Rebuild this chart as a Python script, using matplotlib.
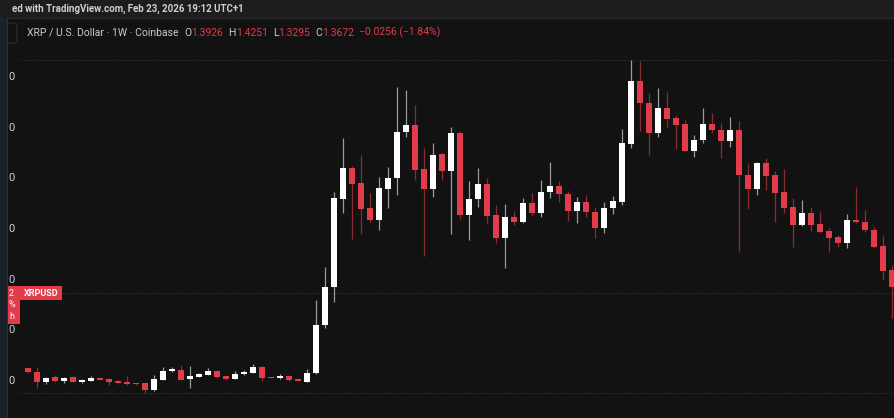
import matplotlib
matplotlib.use("Agg")
import matplotlib.pyplot as plt
from matplotlib.patches import Rectangle, FancyBboxPatch

# weekly XRP/USD candles
opens = [0.631, 0.592, 0.493, 0.536, 0.500, 0.536, 0.490, 0.503, 0.529, 0.520,
         0.503, 0.493, 0.477, 0.477, 0.411, 0.510, 0.601, 0.608, 0.517, 0.542,
         0.559, 0.599, 0.549, 0.520, 0.566, 0.582, 0.641, 0.536, 0.526, 0.549,
         0.516, 0.493, 0.576, 1.053, 1.431, 2.296, 2.605, 2.451, 2.204, 2.089,
         2.395, 2.500, 2.954, 3.026, 2.589, 2.392, 2.737, 2.575, 2.950, 2.138,
         2.293, 2.441, 2.138, 1.914, 2.121, 2.072, 2.253, 2.155, 2.368, 2.427,
         2.345, 2.178, 2.269, 2.171, 2.013, 2.204, 2.269, 2.836, 3.461, 3.246,
         2.950, 3.191, 3.092, 3.033, 2.773, 2.878, 3.033, 2.977, 2.868, 2.977,
         2.530, 2.392, 2.648, 2.530, 2.368, 2.214, 2.039, 2.161, 2.049, 1.980,
         1.918, 1.859, 2.089, 2.069, 1.990, 1.832, 1.595]
closes = [0.586, 0.493, 0.526, 0.503, 0.532, 0.493, 0.510, 0.532, 0.510, 0.487,
          0.477, 0.470, 0.470, 0.411, 0.520, 0.599, 0.618, 0.510, 0.552, 0.566,
          0.599, 0.536, 0.517, 0.566, 0.586, 0.641, 0.526, 0.529, 0.549, 0.510,
          0.503, 0.582, 1.053, 1.431, 2.303, 2.605, 2.447, 2.197, 2.086, 2.402,
          2.506, 2.960, 3.026, 2.582, 2.392, 2.730, 2.572, 2.944, 2.138, 2.293,
          2.441, 2.128, 1.914, 2.121, 2.072, 2.253, 2.155, 2.368, 2.427, 2.342,
          2.178, 2.269, 2.165, 2.013, 2.210, 2.279, 2.846, 3.461, 3.246, 2.950,
          3.191, 3.086, 3.026, 2.773, 2.878, 3.033, 2.977, 2.868, 2.977, 2.530,
          2.392, 2.648, 2.523, 2.358, 2.210, 2.039, 2.161, 2.039, 1.973, 1.914,
          1.859, 2.089, 2.066, 1.990, 1.825, 1.588, 1.425]
highs = [0.641, 0.641, 0.536, 0.559, 0.540, 0.545, 0.515, 0.552, 0.535, 0.528,
         0.510, 0.552, 0.482, 0.485, 0.559, 0.635, 0.635, 0.658, 0.648, 0.575,
         0.631, 0.605, 0.555, 0.599, 0.608, 0.665, 0.648, 0.540, 0.570, 0.555,
         0.520, 0.618, 1.299, 1.628, 2.368, 2.901, 2.620, 2.730, 2.352, 2.510,
         2.609, 3.404, 3.372, 3.224, 2.802, 2.846, 2.750, 3.010, 2.967, 2.477,
         2.599, 2.506, 2.237, 2.247, 2.181, 2.303, 2.358, 2.484, 2.664, 2.477,
         2.378, 2.319, 2.335, 2.220, 2.269, 2.329, 2.987, 3.668, 3.661, 3.339,
         3.389, 3.355, 3.125, 3.076, 2.928, 3.191, 3.142, 3.043, 3.108, 3.066,
         2.648, 2.660, 2.698, 2.570, 2.589, 2.303, 2.286, 2.214, 2.181, 2.007,
         1.941, 2.145, 2.417, 2.187, 2.023, 1.941, 1.645]
lows = [0.576, 0.434, 0.470, 0.490, 0.480, 0.487, 0.485, 0.498, 0.505, 0.460,
        0.470, 0.465, 0.465, 0.384, 0.405, 0.505, 0.590, 0.505, 0.428, 0.535,
        0.555, 0.530, 0.505, 0.515, 0.560, 0.578, 0.503, 0.525, 0.520, 0.500,
        0.498, 0.490, 0.570, 1.023, 1.282, 2.155, 1.898, 1.951, 2.069, 1.990,
        2.204, 2.335, 2.911, 2.484, 1.733, 2.319, 2.484, 1.951, 2.096, 1.891,
        2.220, 2.056, 1.865, 1.612, 2.039, 2.056, 2.128, 2.121, 2.303, 2.269,
        2.082, 2.062, 2.121, 1.908, 1.957, 2.148, 2.237, 2.802, 2.967, 2.730,
        2.905, 3.010, 2.787, 2.763, 2.708, 2.846, 2.950, 2.698, 2.812, 1.776,
        2.194, 2.335, 2.385, 2.072, 2.161, 1.819, 2.029, 1.983, 1.957, 1.776,
        1.825, 1.809, 2.056, 1.973, 1.809, 1.497, 1.119]

tick_prices = [3.5, 3.0, 2.5, 2.0, 1.5, 1.0, 0.5]
last_price = 1.3672

header = "ed with TradingView.com, Feb 23, 2026 19:12 UTC+1"
legend_parts = [("XRP / U.S. Dollar · 1W · Coinbase", "#c9ccd3", 6),
                ("O", "#c9ccd3", 0), ("1.3926", "#e23b4a", 5),
                ("H", "#c9ccd3", 0), ("1.4251", "#e23b4a", 5),
                ("L", "#c9ccd3", 0), ("1.3295", "#e23b4a", 5),
                ("C", "#c9ccd3", 0), ("1.3672", "#e23b4a", 5),
                ("−0.0256 (−1.84%)", "#e23b4a", 0)]

W, H = 895, 418
BG = "#121212"
UP = "#ffffff"
DOWN = "#e23b4a"

fig = plt.figure(figsize=(W / 100, H / 100), dpi=100, facecolor=BG)
ax = fig.add_axes([0, 0, 1, 1])
ax.set_facecolor(BG)
ax.set_xlim(-28 / 9, 867 / 9)
ax.set_ylim(4.2599 - H / 101.33, 4.2599)
ax.axis("off")


def fx(px):
    return px / W


def fy(py):
    return 1 - py / H


xs = list(range(len(opens)))
up = [c >= o for o, c in zip(opens, closes)]
body_cols = [UP if u else DOWN for u in up]
wick_cols = ["#9a9a9a" if u else "#8a2a33" for u in up]
bottoms = [min(o, c) for o, c in zip(opens, closes)]
heights = [max(abs(c - o), 0.012) for o, c in zip(opens, closes)]

# range lines and last price line
ax.axhline(max(highs), xmin=fx(20), xmax=1, color="#3a3a3a", lw=0.8,
           ls=(0, (1, 2)), zorder=1)
ax.axhline(min(lows), xmin=fx(20), xmax=1, color="#3a3a3a", lw=0.8,
           ls=(0, (1, 2)), zorder=1)
ax.axhline(last_price, xmin=fx(62), xmax=1, color="#6e252c", lw=0.8,
           ls=(0, (1, 2)), zorder=1)

ax.vlines(xs, lows, highs, colors=wick_cols, lw=0.9, zorder=2)
ax.bar(xs, heights, bottom=bottoms, width=0.72, color=body_cols,
       linewidth=0, zorder=3)

# top bar
fig.patches.append(Rectangle((0, fy(18)), 1, 18 / H, transform=fig.transFigure,
                             facecolor="#1d1d1d", edgecolor="none", zorder=5))
fig.patches.append(Rectangle((0, fy(18.5)), 1, 1 / H, transform=fig.transFigure,
                             facecolor="#2a2a2a", edgecolor="none", zorder=5))
fig.text(fx(12), fy(9), header, color="#cfcfcf", fontsize=7, fontweight="bold",
         family="Roboto", va="center", ha="left", zorder=6)

# left strip
fig.patches.append(Rectangle((0, 0), 7 / W, fy(18), transform=fig.transFigure,
                             facecolor="#1b212b", edgecolor="none", zorder=5))
fig.patches.append(Rectangle((7 / W, 0), 1 / W, fy(18), transform=fig.transFigure,
                             facecolor="#2b323d", edgecolor="none", zorder=5))
fig.patches.append(FancyBboxPatch((fx(2), fy(43)), 15 / W, 20 / H,
                                  boxstyle="round,pad=0,rounding_size=0.005",
                                  transform=fig.transFigure, facecolor="none",
                                  edgecolor="#2e2e2e", lw=0.8, zorder=4))

# legend line
renderer = fig.canvas.get_renderer()
x = 27
for s, c, gap in legend_parts:
    t = fig.text(fx(x), fy(35.5), s, color=c, fontsize=7.5, family="Roboto",
                 va="baseline", ha="left", zorder=6)
    x = t.get_window_extent(renderer).x1 + gap

# cut-off price scale labels
for p in tick_prices:
    ax.text(fx(8.5), p, "0", transform=ax.get_yaxis_transform(), color="#c9ccd3",
            fontsize=8, family="Roboto", va="center", ha="left", zorder=6)

# last price / symbol labels
py = (4.2599 - last_price) * 101.33
fig.patches.append(Rectangle((fx(20.5), fy(py + 7)), 42 / W, 14 / H,
                             transform=fig.transFigure, facecolor=DOWN,
                             edgecolor="none", zorder=6))
fig.text(fx(41.5), fy(py), "XRPUSD", color="white", fontsize=6.5,
         fontweight="bold", family="Roboto", va="center", ha="center", zorder=7)
fig.patches.append(Rectangle((fx(8), fy(py + 31)), 12 / W, 38 / H,
                             transform=fig.transFigure, facecolor=DOWN,
                             edgecolor="none", zorder=6))
for i, s in enumerate(["2", "%", "h"]):
    fig.text(fx(9), fy(py + i * 11.7), s, color="white", fontsize=6.5,
             family="Roboto", va="center", ha="left", zorder=7)

fig.savefig("out.png", dpi=100, facecolor=BG)
